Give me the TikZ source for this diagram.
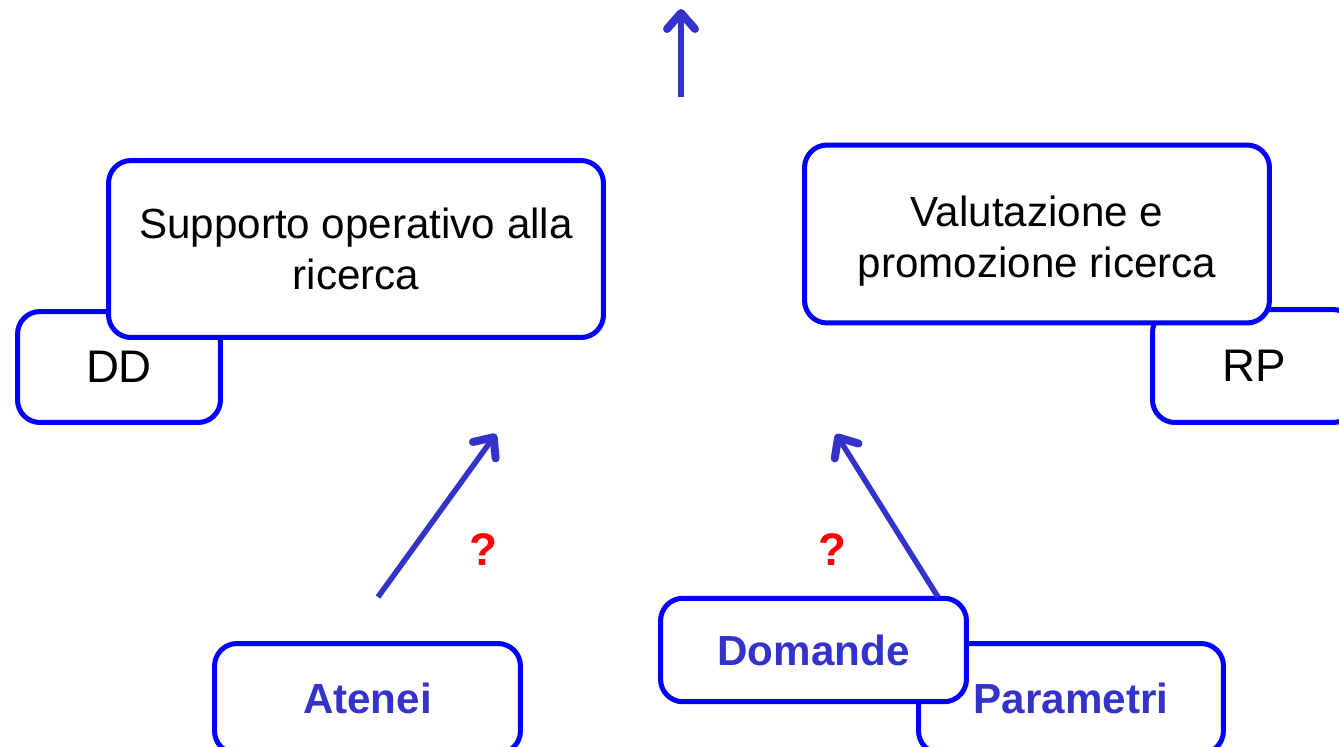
\documentclass[tikz,border=0pt]{standalone}
\usepackage{fontspec}
\setmainfont{Liberation Sans}
\usetikzlibrary{arrows.meta}
\definecolor{boxblue}{HTML}{0000FF}
\definecolor{flowblue}{HTML}{3333CC}

\begin{document}
\begin{tikzpicture}[x=0.02cm, y=-0.02cm,
		box/.style={draw=boxblue, line width=0.1cm, fill=white, rounded corners=0.45cm, inner sep=0pt, align=center, font=\fontsize{24}{29}\selectfont},
		tag/.style={box, font=\fontsize{26}{30}\selectfont},
		source/.style={box, text=flowblue, font=\fontsize{24}{29}\selectfont\bfseries},
		flow/.style={flowblue, line width=0.11cm, -{Straight Barb[length=0.32cm, width=0.56cm, line width=0.16cm, round]}},
		query/.style={text=red, font=\fontsize{26}{30}\selectfont\bfseries}]
		\useasboundingbox (0,0) rectangle (1339,747);
		\clip (0,0) rectangle (1339,747);

		% left pair
		\node [tag, minimum width=4.06cm, minimum height=2.22cm] (dd) at (119,367) {DD};
		\node [box, minimum width=9.9cm, minimum height=3.54cm] (sup) at (356,249) {Supporto operativo alla\\ricerca};

		% right pair
		\node [tag, minimum width=4.06cm, minimum height=2.26cm] (rp) at (1254,366) {RP};
		\node [box, minimum width=9.3cm, minimum height=3.56cm] (val) at (1037,234) {\rule{0pt}{0.9cm}Valutazione e\\promozione ricerca};

		% bottom
		\node [source, minimum width=6.12cm, minimum height=2.2cm] (ate) at (367.5,698.5) {Atenei};
		\node [source, minimum width=6.1cm, minimum height=2.2cm] (par) at (1071,698.5) {Parametri};
		\node [source, minimum width=6.12cm, minimum height=2.07cm] (dom) at (813.5,650) {Domande};

		% arrows
		\coordinate (upfoot) at (681,97);
		\coordinate (uptip) at (681,9);
		\coordinate (atefoot) at (378,597);
		\coordinate (atetip) at (496,434);
		\coordinate (domfoot) at (938,597);
		\coordinate (domtip) at (836,434);
		\draw [flow] (upfoot) -- (uptip);
		\draw [flow] (atefoot) -- (atetip);
		\draw [flow] (domfoot) -- (domtip);

		\node [query] (q1) at (483,550) {?};
		\node [query] (q2) at (832,550) {?};
	\end{tikzpicture}
\end{document}
